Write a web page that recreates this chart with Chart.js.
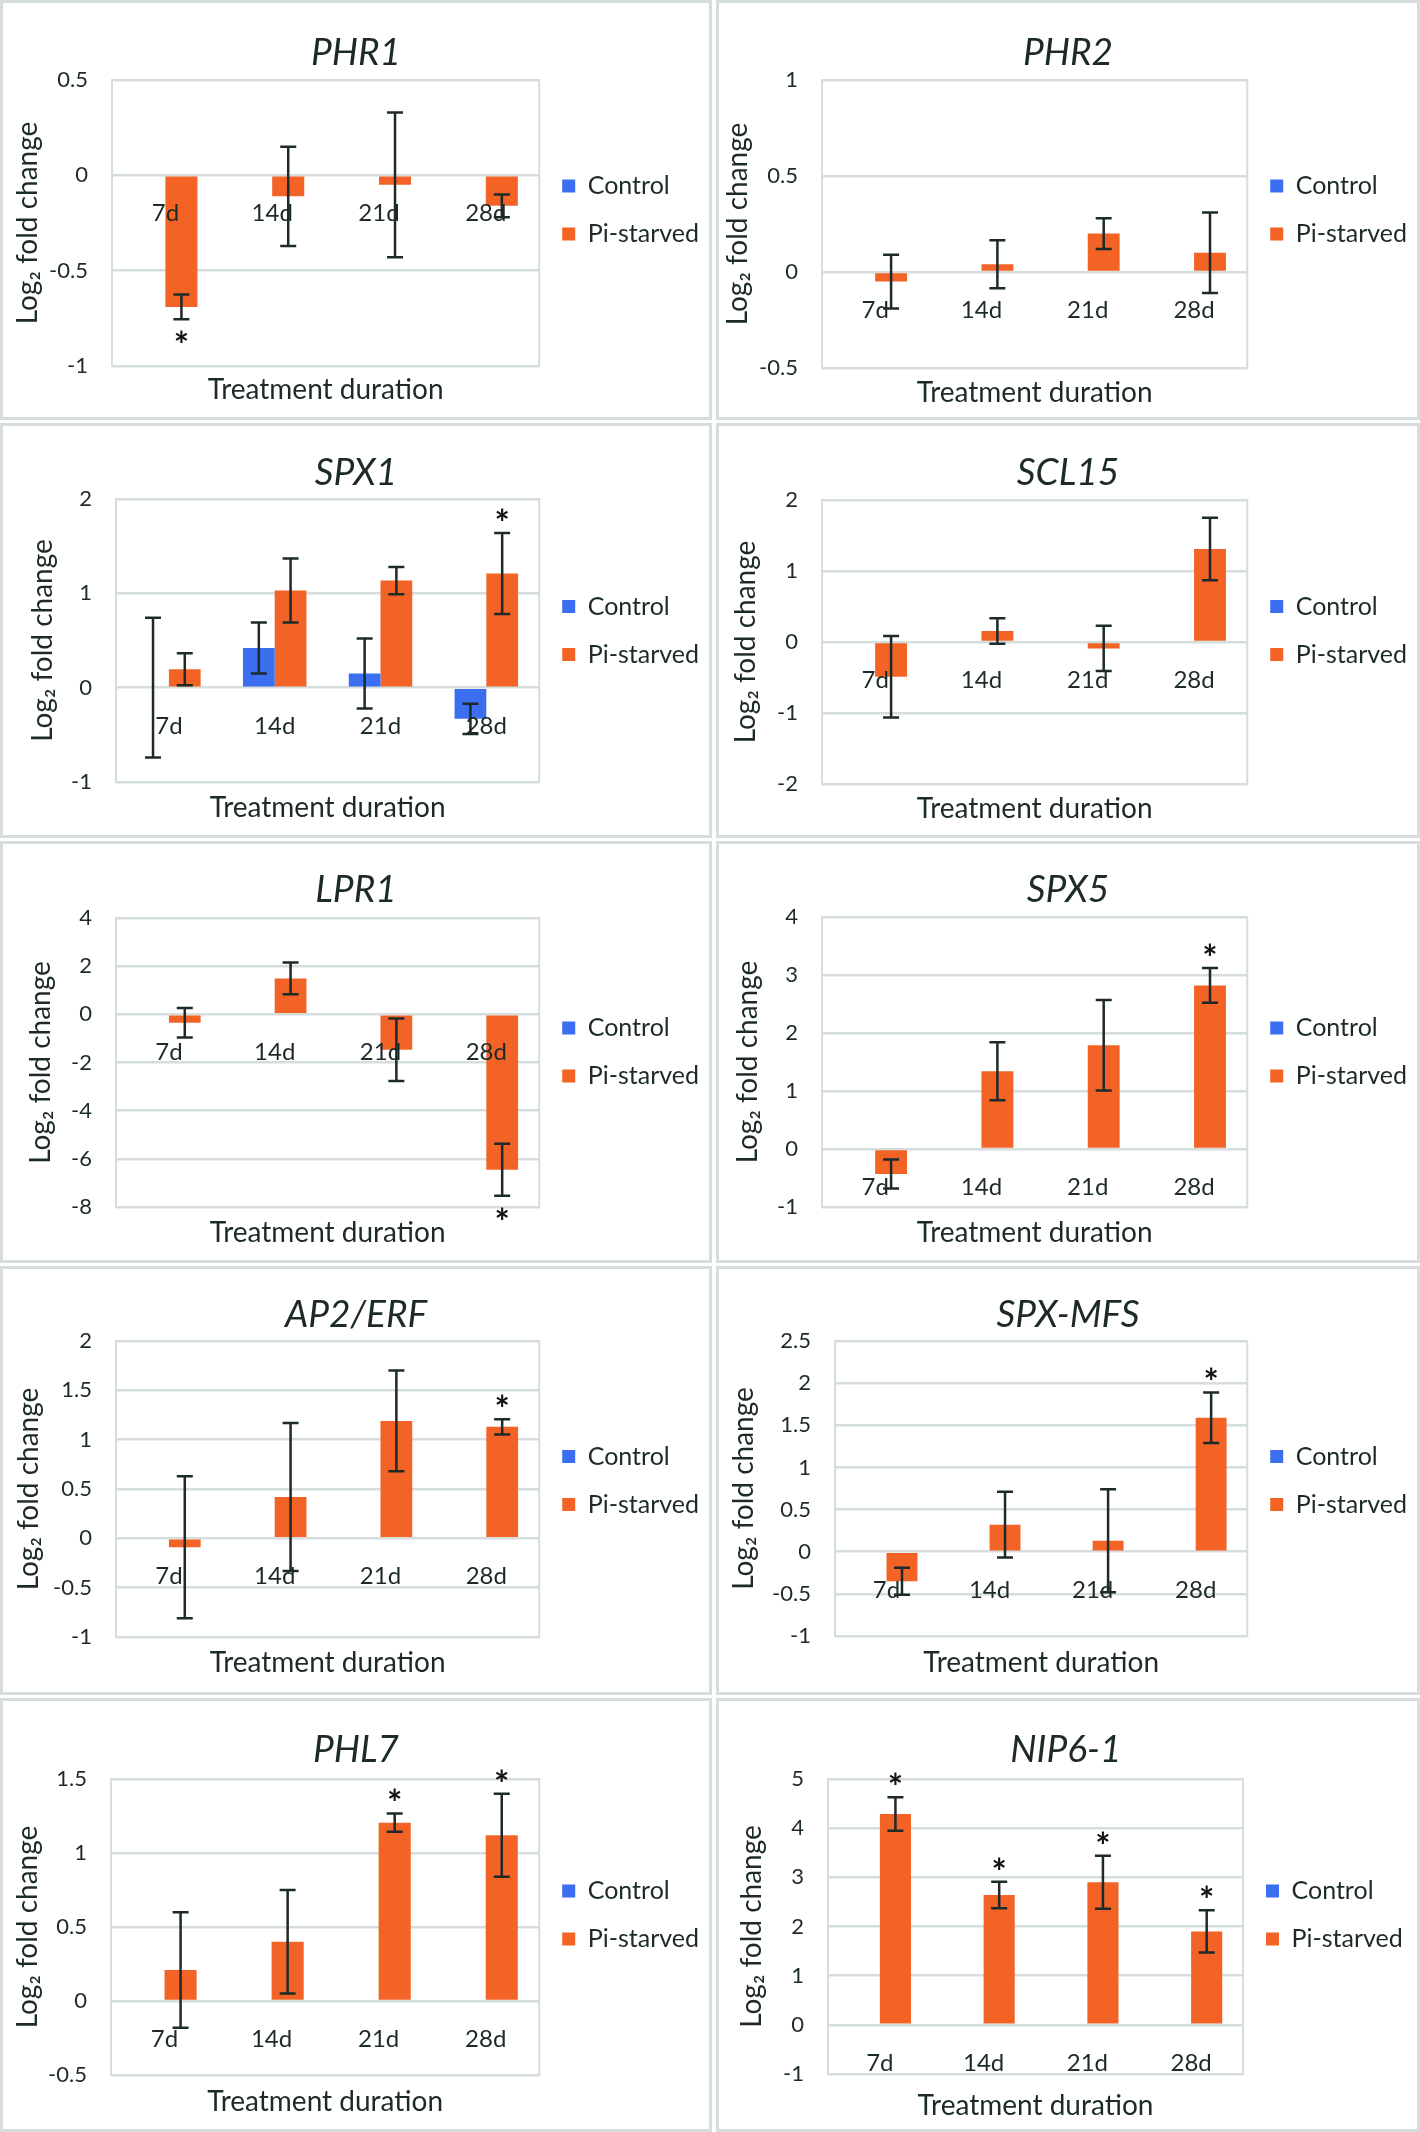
<!DOCTYPE html>
<html>
<head>
<meta charset="utf-8">
<script src="https://cdn.jsdelivr.net/npm/chart.js@4.4.1/dist/chart.umd.min.js"></script>
<style>
  html, body { margin: 0; padding: 0; background: #fff; }
  #fig { position: relative; width: 1420px; height: 2132px; }
  .panel { position: absolute; box-sizing: border-box; border: 3px solid #d6dddd; background: #fff; }
  .panel canvas { display: block; }
</style>
</head>
<body>
<div id="fig"></div>
<script>
const categories = ["7d", "14d", "21d", "28d"];
const genes = ["PHR1", "PHR2", "SPX1", "SCL15", "LPR1", "SPX5", "AP2/ERF", "SPX-MFS", "PHL7", "NIP6-1"];
const seriesNames = ["Control", "Pi-starved"];

// Pi-starved log2 fold change and error bar half-length
const phr1 = [-0.69, -0.11, -0.05, -0.16];
const phr1Err = [0.065, 0.26, 0.38, 0.06];
const phr2 = [-0.05, 0.04, 0.2, 0.1];
const phr2Err = [0.14, 0.125, 0.08, 0.21];
const spx1 = [0.195, 1.03, 1.135, 1.21];
const spx1Err = [0.17, 0.34, 0.145, 0.43];
const scl15 = [-0.49, 0.155, -0.09, 1.31];
const scl15Err = [0.575, 0.18, 0.32, 0.44];
const lpr1 = [-0.35, 1.49, -1.47, -6.45];
const lpr1Err = [0.61, 0.66, 1.3, 1.08];
const spx5 = [-0.43, 1.34, 1.79, 2.82];
const spx5Err = [0.25, 0.5, 0.78, 0.3];
const ap2erf = [-0.09, 0.42, 1.19, 1.13];
const ap2erfErr = [0.72, 0.75, 0.51, 0.077];
const spxMfs = [-0.35, 0.32, 0.13, 1.59];
const spxMfsErr = [0.16, 0.39, 0.61, 0.3];
const phl7 = [0.21, 0.4, 1.205, 1.12];
const phl7Err = [0.39, 0.35, 0.062, 0.28];
const nip61 = [4.29, 2.64, 2.9, 1.9];
const nip61Err = [0.34, 0.27, 0.54, 0.43];

// control bars (only SPX1 differs from zero)
const controlZero = [0, 0, 0, 0];
const spx1Control = [0, 0.42, 0.15, -0.33];
const spx1ControlErr = [0.74, 0.27, 0.37, 0.16];

// significance asterisks (1 = marked)
const phr1Sig = [1, 0, 0, 0];
const noSig = [0, 0, 0, 0];
const spx1Sig = [0, 0, 0, 1];
const lpr1Sig = [0, 0, 0, 1];
const spx5Sig = [0, 0, 0, 1];
const ap2erfSig = [0, 0, 0, 1];
const spxMfsSig = [0, 0, 0, 1];
const phl7Sig = [0, 0, 1, 1];
const nip61Sig = [1, 1, 1, 1];

// y axis [min, max, step]
const phr1Axis = [-1, 0.5, 0.5];
const phr2Axis = [-0.5, 1, 0.5];
const spx1Axis = [-1, 2, 1];
const scl15Axis = [-2, 2, 1];
const lpr1Axis = [-8, 4, 2];
const spx5Axis = [-1, 4, 1];
const ap2erfAxis = [-1, 2, 0.5];
const spxMfsAxis = [-1, 2.5, 0.5];
const phl7Axis = [-0.5, 1.5, 0.5];
const nip61Axis = [-1, 5, 1];

const panels = [
  { starved: phr1, starvedErr: phr1Err, control: controlZero, controlErr: controlZero, sig: phr1Sig, axis: phr1Axis },
  { starved: phr2, starvedErr: phr2Err, control: controlZero, controlErr: controlZero, sig: noSig, axis: phr2Axis },
  { starved: spx1, starvedErr: spx1Err, control: spx1Control, controlErr: spx1ControlErr, sig: spx1Sig, axis: spx1Axis },
  { starved: scl15, starvedErr: scl15Err, control: controlZero, controlErr: controlZero, sig: noSig, axis: scl15Axis },
  { starved: lpr1, starvedErr: lpr1Err, control: controlZero, controlErr: controlZero, sig: lpr1Sig, axis: lpr1Axis },
  { starved: spx5, starvedErr: spx5Err, control: controlZero, controlErr: controlZero, sig: spx5Sig, axis: spx5Axis },
  { starved: ap2erf, starvedErr: ap2erfErr, control: controlZero, controlErr: controlZero, sig: ap2erfSig, axis: ap2erfAxis },
  { starved: spxMfs, starvedErr: spxMfsErr, control: controlZero, controlErr: controlZero, sig: spxMfsSig, axis: spxMfsAxis },
  { starved: phl7, starvedErr: phl7Err, control: controlZero, controlErr: controlZero, sig: phl7Sig, axis: phl7Axis },
  { starved: nip61, starvedErr: nip61Err, control: controlZero, controlErr: controlZero, sig: nip61Sig, axis: nip61Axis },
];

// page layout: outer box [x, y, w, h], plot area [l, t, r, b], title y, x-title y, y-title x
const boxes = [
  { outer: [0, 0, 712, 420], plot: [112, 80, 541, 366], titleY: 53, xTitleY: 390, yTitleX: 28 },
  { outer: [716, 0, 704, 420], plot: [822, 80, 1250, 368], titleY: 53, xTitleY: 393, yTitleX: 738 },
  { outer: [0, 423, 712, 415], plot: [116, 499, 542, 782], titleY: 473, xTitleY: 808, yTitleX: 43 },
  { outer: [716, 423, 704, 415], plot: [822, 500, 1250, 784], titleY: 473, xTitleY: 809, yTitleX: 746 },
  { outer: [0, 841, 712, 422], plot: [116, 918, 542, 1207], titleY: 890, xTitleY: 1233, yTitleX: 41 },
  { outer: [716, 841, 704, 422], plot: [822, 917, 1250, 1207], titleY: 890, xTitleY: 1233, yTitleX: 748 },
  { outer: [0, 1266, 712, 429], plot: [116, 1341, 542, 1637], titleY: 1315, xTitleY: 1663, yTitleX: 29 },
  { outer: [716, 1266, 704, 429], plot: [835, 1341, 1250, 1636], titleY: 1315, xTitleY: 1663, yTitleX: 744 },
  { outer: [0, 1698, 712, 434], plot: [111, 1779, 548, 2075], titleY: 1750, xTitleY: 2102, yTitleX: 28 },
  { outer: [716, 1698, 704, 434], plot: [828, 1779, 1243, 2074], titleY: 1750, xTitleY: 2106, yTitleX: 752 },
];

const TEXT = "#1d2a2a";
const GRID = "#d6dddd";
const BLUE = "#3c6ef0";
const ORANGE = "#f26325";

Chart.defaults.font.family = "Lato, 'Open Sans', sans-serif";
Chart.defaults.color = TEXT;

const plotFrame = {
  id: "plotFrame",
  beforeDatasetsDraw(chart) {
    const { ctx, chartArea: a } = chart;
    ctx.save();
    ctx.strokeStyle = GRID;
    ctx.lineWidth = 2;
    ctx.strokeRect(a.left, a.top, a.right - a.left, a.bottom - a.top);
    ctx.restore();
  },
};

const errorBars = {
  id: "errorBars",
  afterDraw(chart) {
    const { ctx } = chart;
    const y = chart.scales.y;
    ctx.save();
    chart.data.datasets.forEach((ds, di) => {
      const meta = chart.getDatasetMeta(di);
      meta.data.forEach((bar, i) => {
        const e = ds.errors[i];
        if (!e) return;
        const v = ds.data[i];
        const yTop = y.getPixelForValue(v + e);
        const yBot = y.getPixelForValue(v - e);
        const x = bar.x;
        ctx.strokeStyle = TEXT;
        ctx.lineWidth = 2.5;
        ctx.beginPath();
        ctx.moveTo(x, yTop); ctx.lineTo(x, yBot);
        ctx.moveTo(x - 8, yTop); ctx.lineTo(x + 8, yTop);
        ctx.moveTo(x - 8, yBot); ctx.lineTo(x + 8, yBot);
        ctx.stroke();
        if (ds.sig && ds.sig[i]) {
          const cy = v >= 0 ? yTop - 18 : yBot + 18;
          ctx.fillStyle = "#111";
          ctx.font = "bold 36px Lato, sans-serif";
          ctx.textAlign = "center";
          ctx.textBaseline = "alphabetic";
          ctx.fillText("*", x, cy + 21);
        }
      });
    });
    ctx.restore();
  },
};

const tickText = (v) => String(Math.round(v * 100) / 100);

const fig = document.getElementById("fig");

panels.forEach((p, k) => {
  const b = boxes[k];
  const div = document.createElement("div");
  div.className = "panel";
  div.style.left = b.outer[0] + "px";
  div.style.top = b.outer[1] + "px";
  div.style.width = b.outer[2] + "px";
  div.style.height = b.outer[3] + "px";
  const cw = b.outer[2] - 6, ch = b.outer[3] - 6;
  const canvas = document.createElement("canvas");
  canvas.width = cw; canvas.height = ch;
  canvas.style.width = cw + "px"; canvas.style.height = ch + "px";
  div.appendChild(canvas);
  fig.appendChild(div);

  const ox = b.outer[0] + 3, oy = b.outer[1] + 3;
  const pl = b.plot[0] - ox, pt = b.plot[1] - oy, pr = b.plot[2] - ox, pb = b.plot[3] - oy;
  const titleSize = 37, axisTitleSize = 28;
  const titlePadTop = b.titleY - oy - titleSize * 0.6;
  const titlePadBottom = pt - titlePadTop - titleSize * 1.2;
  const xTitlePad = ch - (b.xTitleY - oy) - axisTitleSize * 0.6;
  const yTitlePad = b.yTitleX - ox - axisTitleSize * 0.6;

  const config = {
    type: "bar",
    data: {
      labels: categories,
      datasets: [
        { label: seriesNames[0], data: p.control, errors: p.controlErr, backgroundColor: BLUE, borderWidth: 0, xAxisID: "x" },
        { label: seriesNames[1], data: p.starved, errors: p.starvedErr, sig: p.sig, backgroundColor: ORANGE, borderWidth: 0, xAxisID: "x" },
      ],
    },
    options: {
      responsive: false,
      animation: false,
      devicePixelRatio: 1,
      layout: { padding: { left: 0, top: 0, right: 0, bottom: 0 } },
      datasets: { bar: { categoryPercentage: 0.6, barPercentage: 1 } },
      plugins: {
        title: {
          display: true,
          text: genes[k],
          font: { size: titleSize, style: "italic", weight: "normal" },
          color: TEXT,
          padding: { top: titlePadTop, bottom: titlePadBottom },
        },
        legend: {
          position: "right",
          align: "center",
          labels: { boxWidth: 13, boxHeight: 13, padding: 23, font: { size: 25 }, color: TEXT },
        },
        tooltip: { enabled: false },
      },
      scales: {
        x: {
          type: "category",
          position: { y: 0 },
          grid: { display: false, drawTicks: false },
          border: { display: false },
          ticks: { font: { size: 24 }, color: TEXT, padding: 24, z: 1 },
        },
        x2: {
          type: "category",
          position: "bottom",
          grid: { display: false, drawTicks: false },
          border: { display: false },
          ticks: { display: false },
          title: { display: true, text: "Treatment duration", font: { size: axisTitleSize }, color: TEXT, padding: { top: 0, bottom: xTitlePad } },
          afterFit(scale) { scale.height = ch - pb; },
        },
        y: {
          min: p.axis[0],
          max: p.axis[1],
          ticks: { stepSize: p.axis[2], font: { size: 22 }, color: TEXT, padding: 24, callback: tickText },
          grid: { color: GRID, lineWidth: 2.5, drawTicks: false },
          border: { display: false },
          title: { display: true, text: "Log\u2082 fold change", font: { size: axisTitleSize }, color: TEXT, padding: { top: yTitlePad, bottom: 0 } },
          afterFit(scale) { scale.width = pl; },
        },
      },
    },
    plugins: [plotFrame, errorBars],
  };

  const chart = new Chart(canvas, config);
  // nudge right padding so the plot area lands where the legend leaves it in the figure
  const dr = chart.chartArea.right - pr;
  if (Math.abs(dr) > 0.5) {
    chart.options.layout.padding.right = Math.max(0, dr);
    chart.update();
  }
});
</script>
</body>
</html>
